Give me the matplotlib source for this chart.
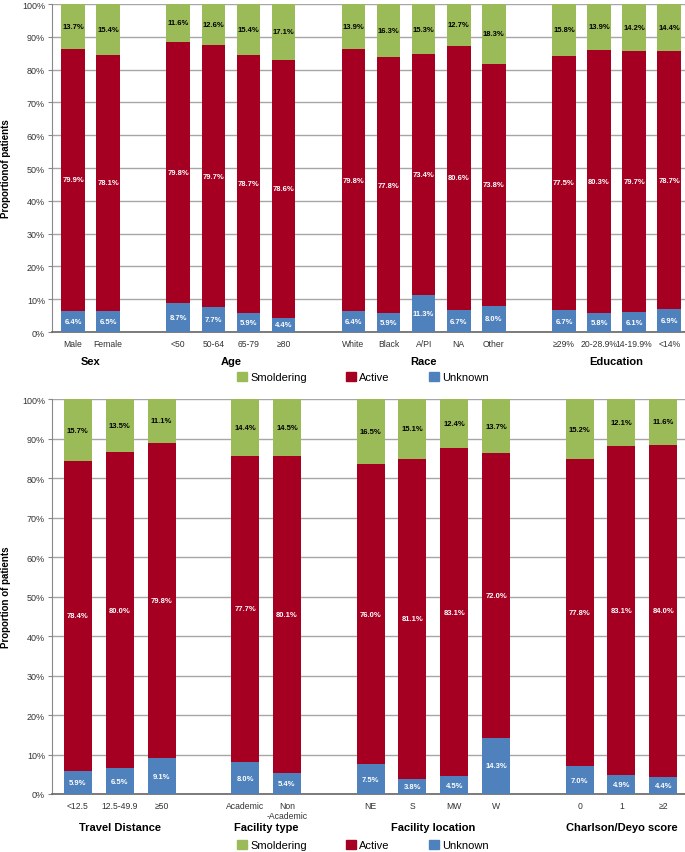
import numpy as np
import matplotlib
matplotlib.use("Agg")
from matplotlib import pyplot as plt
from matplotlib.patches import Patch

plt.rcParams['font.family'] = ['Liberation Sans', 'DejaVu Sans']

# top panel
top_labels = ["Male", "Female", "<50", "50-64", "65-79", "≥80",
              "White", "Black", "A/PI", "NA", "Other",
              "≥29%", "20-28.9%", "14-19.9%", "<14%"]
top_groups = [("Sex", 2), ("Age", 4), ("Race", 5), ("Education", 4)]
top_unknown = [6.4, 6.5, 8.7, 7.7, 5.9, 4.4, 6.4, 5.9, 11.3, 6.7, 8.0, 6.7, 5.8, 6.1, 6.9]
top_active = [79.9, 78.1, 79.8, 79.7, 78.7, 78.6, 79.8, 77.8, 73.4, 80.6, 73.8, 77.5, 80.3, 79.7, 78.7]
top_smold = [13.7, 15.4, 11.6, 12.6, 15.4, 17.1, 13.9, 16.3, 15.3, 12.7, 18.3, 15.8, 13.9, 14.2, 14.4]

# bottom panel
bot_labels = ["<12.5", "12.5-49.9", "≥50", "Academic", "Non\n-Academic",
              "NE", "S", "MW", "W", "0", "1", "≥2"]
bot_groups = [("Travel Distance", 3), ("Facility type", 2), ("Facility location", 4), ("Charlson/Deyo score", 3)]
bot_unknown = [5.9, 6.5, 9.1, 8.0, 5.4, 7.5, 3.8, 4.5, 14.3, 7.0, 4.9, 4.4]
bot_active = [78.4, 80.0, 79.8, 77.7, 80.1, 76.0, 81.1, 83.1, 72.0, 77.8, 83.1, 84.0]
bot_smold = [15.7, 13.5, 11.1, 14.4, 14.5, 16.5, 15.1, 12.4, 13.7, 15.2, 12.1, 11.6]

c_green = "#9bbb59"
c_red = "#a50021"
c_blue = "#4f81bd"


def positions(groups):
    pos = []
    start = 0
    for name, n in groups:
        pos.append(np.arange(start, start + n))
        start += n + 1
    return pos


def draw(ax, labels, groups, unk, act, smo, ylabel, xlim, group_y):
    pos = positions(groups)
    x = np.concatenate(pos)
    unk = np.array(unk); act = np.array(act); smo = np.array(smo)
    w = 0.67
    ax.bar(x, unk, w, color=c_blue, zorder=3)
    ax.bar(x, act, w, bottom=unk, color=c_red, zorder=3)
    ax.bar(x, smo, w, bottom=unk + act, color=c_green, zorder=3)
    for xi, u, a, s in zip(x, unk, act, smo):
        ax.text(xi, u / 2, f"{u:.1f}%", ha="center", va="center", fontsize=5.5,
                fontweight="bold", color="white", zorder=4)
        ax.text(xi, u + a / 2, f"{a:.1f}%", ha="center", va="center", fontsize=5.5,
                fontweight="bold", color="white", zorder=4)
        ax.text(xi, u + a + s / 2, f"{s:.1f}%", ha="center", va="center", fontsize=5.5,
                fontweight="bold", color="black", zorder=4)
    ax.set_xlim(*xlim)
    ax.set_ylim(0, 100)
    ax.set_yticks(np.arange(0, 101, 10))
    ax.set_yticklabels([f"{v}%" for v in range(0, 101, 10)], fontsize=6.5, color="#333333")
    ax.set_xticks(x)
    ax.set_xticklabels(labels, fontsize=6.2, color="#333333", va="top")
    ax.tick_params(axis="x", length=0, pad=5)
    ax.tick_params(axis="y", length=3, width=0.8, color="#888888", pad=2)
    ax.yaxis.grid(True, color="#a6a6a6", linewidth=1)
    ax.set_axisbelow(True)
    for s in ["top", "right"]:
        ax.spines[s].set_visible(False)
    ax.spines["left"].set_color("#888888")
    ax.spines["bottom"].set_color("#666666")
    ax.spines["bottom"].set_linewidth(1.2)
    ax.set_ylabel(ylabel, fontsize=7, fontweight="bold", labelpad=8)
    for (name, n), p in zip(groups, pos):
        ax.text(p.mean(), group_y, name, transform=ax.get_xaxis_transform(),
                ha="center", va="center", fontsize=8, fontweight="bold")


fig = plt.figure(figsize=(6.85, 8.53), dpi=100)
ax1 = fig.add_axes([0.0759, 0.6096, 0.9241, 0.3845])
ax2 = fig.add_axes([0.0759, 0.068, 0.9241, 0.463])

draw(ax1, top_labels, top_groups, top_unknown, top_active, top_smold,
     "Proportionof patients", (-0.6, 17.45), -0.088)
draw(ax2, bot_labels, bot_groups, bot_unknown, bot_active, bot_smold,
     "Proportion of patients", (-0.62, 14.52), -0.084)

handles = [Patch(color=c_green, label="Smoldering"),
           Patch(color=c_red, label="Active"),
           Patch(color=c_blue, label="Unknown")]
for y in [0.557, 0.0085]:
    fig.legend(handles=handles, loc="center", bbox_to_anchor=(0.53, y), ncol=3,
               frameon=False, fontsize=8, handlelength=0.9, handleheight=0.9,
               handletextpad=0.3, columnspacing=3.5, borderpad=0)

fig.savefig("out.png", dpi=100)
